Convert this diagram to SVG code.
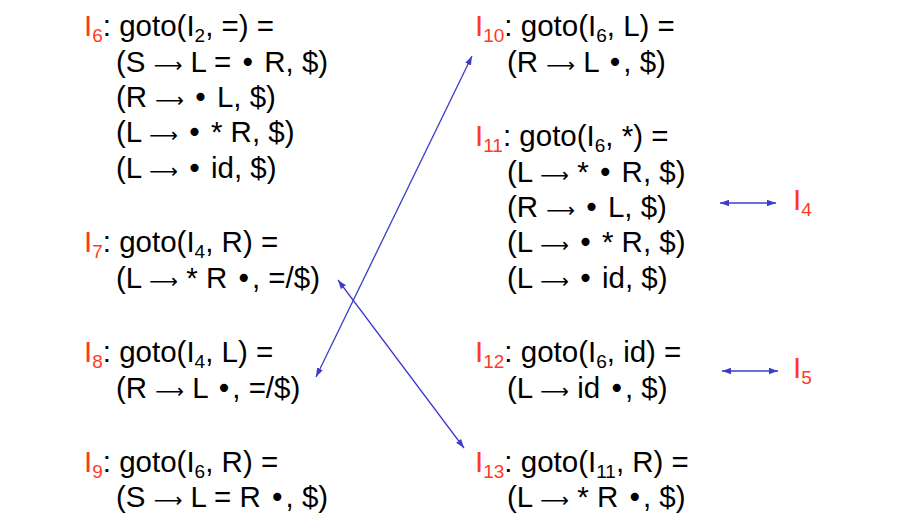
<svg xmlns="http://www.w3.org/2000/svg" width="900" height="520" viewBox="0 0 900 520">
<style>
text{font-family:"Liberation Sans",Arial,sans-serif;font-size:29.5px;fill:#000}
.r{fill:#ff3b1f}
.s{font-size:19px}
.a{font-family:"DejaVu Sans",sans-serif;font-size:20px}
.b{font-family:"DejaVu Sans",sans-serif;font-size:28px}
.c{stroke:#3c3cc8;stroke-width:1.3;fill:none}
</style>
<defs>
<marker id="ah" viewBox="0 0 10 10" refX="10" refY="5" markerWidth="9" markerHeight="9" markerUnits="userSpaceOnUse" orient="auto-start-reverse">
<path d="M0,1.5 L10,5 L0,8.5 Z" fill="#3c3cc8"/>
</marker>
</defs>
<rect width="900" height="520" fill="#fff"/>
<g id="I6">
<text x="84" y="36"><tspan class="r">I</tspan><tspan class="r s" dy="6">6</tspan><tspan dy="-6">: goto(I</tspan><tspan class="s" dy="6">2</tspan><tspan dy="-6">, =) =</tspan></text>
<text x="116" y="72">(S <tspan class="a">⟶</tspan> L = <tspan class="b">•</tspan> R, $)</text>
<text x="116" y="107">(R <tspan class="a">⟶</tspan> <tspan class="b">•</tspan> L, $)</text>
<text x="116" y="142">(L <tspan class="a">⟶</tspan> <tspan class="b">•</tspan> * R, $)</text>
<text x="116" y="178">(L <tspan class="a">⟶</tspan> <tspan class="b">•</tspan> id, $)</text>
</g>
<g id="I7">
<text x="84" y="252"><tspan class="r">I</tspan><tspan class="r s" dy="6">7</tspan><tspan dy="-6">: goto(I</tspan><tspan class="s" dy="6">4</tspan><tspan dy="-6">, R) =</tspan></text>
<text x="116" y="288">(L <tspan class="a">⟶</tspan> * R <tspan class="b">•</tspan>, =/$)</text>
</g>
<g id="I8">
<text x="84" y="362"><tspan class="r">I</tspan><tspan class="r s" dy="6">8</tspan><tspan dy="-6">: goto(I</tspan><tspan class="s" dy="6">4</tspan><tspan dy="-6">, L) =</tspan></text>
<text x="116" y="398">(R <tspan class="a">⟶</tspan> L <tspan class="b">•</tspan>, =/$)</text>
</g>
<g id="I9">
<text x="84" y="472"><tspan class="r">I</tspan><tspan class="r s" dy="6">9</tspan><tspan dy="-6">: goto(I</tspan><tspan class="s" dy="6">6</tspan><tspan dy="-6">, R) =</tspan></text>
<text x="116" y="507">(S <tspan class="a">⟶</tspan> L = R <tspan class="b">•</tspan>, $)</text>
</g>
<g id="I10">
<text x="475" y="36"><tspan class="r">I</tspan><tspan class="r s" dy="6">10</tspan><tspan dy="-6">: goto(I</tspan><tspan class="s" dy="6">6</tspan><tspan dy="-6">, L) =</tspan></text>
<text x="507" y="72">(R <tspan class="a">⟶</tspan> L <tspan class="b">•</tspan>, $)</text>
</g>
<g id="I11">
<text x="475" y="146"><tspan class="r">I</tspan><tspan class="r s" dy="6">11</tspan><tspan dy="-6">: goto(I</tspan><tspan class="s" dy="6">6</tspan><tspan dy="-6">, *) =</tspan></text>
<text x="507" y="182">(L <tspan class="a">⟶</tspan> * <tspan class="b">•</tspan> R, $)</text>
<text x="507" y="217">(R <tspan class="a">⟶</tspan> <tspan class="b">•</tspan> L, $)</text>
<text x="507" y="252">(L <tspan class="a">⟶</tspan> <tspan class="b">•</tspan> * R, $)</text>
<text x="507" y="288">(L <tspan class="a">⟶</tspan> <tspan class="b">•</tspan> id, $)</text>
</g>
<g id="I12">
<text x="475" y="362"><tspan class="r">I</tspan><tspan class="r s" dy="6">12</tspan><tspan dy="-6">: goto(I</tspan><tspan class="s" dy="6">6</tspan><tspan dy="-6">, id) =</tspan></text>
<text x="507" y="398">(L <tspan class="a">⟶</tspan> id <tspan class="b">•</tspan>, $)</text>
</g>
<g id="I13">
<text x="475" y="472"><tspan class="r">I</tspan><tspan class="r s" dy="6">13</tspan><tspan dy="-6">: goto(I</tspan><tspan class="s" dy="6">11</tspan><tspan dy="-6">, R) =</tspan></text>
<text x="507" y="507">(L <tspan class="a">⟶</tspan> * R <tspan class="b">•</tspan>, $)</text>
</g>
<g id="I4">
<text x="793" y="210"><tspan class="r">I</tspan><tspan class="r s" dy="6">4</tspan></text>
</g>
<g id="I5">
<text x="793" y="378"><tspan class="r">I</tspan><tspan class="r s" dy="6">5</tspan></text>
</g>
<g id="connectors">
<line class="c" x1="316" y1="377" x2="472" y2="56" marker-start="url(#ah)" marker-end="url(#ah)"/>
<line class="c" x1="338" y1="280" x2="464" y2="448" marker-start="url(#ah)" marker-end="url(#ah)"/>
<line class="c" x1="720" y1="203" x2="776" y2="203" marker-start="url(#ah)" marker-end="url(#ah)"/>
<line class="c" x1="722" y1="371" x2="778" y2="371" marker-start="url(#ah)" marker-end="url(#ah)"/>
</g>
</svg>
